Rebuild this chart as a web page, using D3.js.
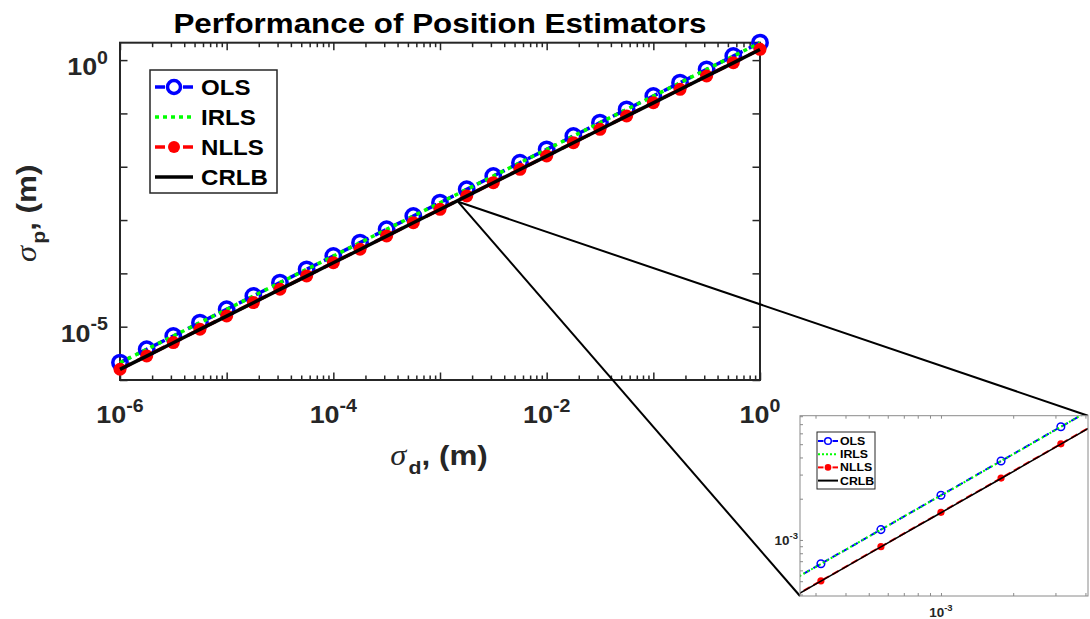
<!DOCTYPE html>
<html>
<head>
<meta charset="utf-8">
<script src="https://cdn.jsdelivr.net/npm/d3@7"></script>
<style>
  html, body { margin: 0; padding: 0; background: #fff; }
  svg { display: block; font-family: "Liberation Sans", Arial, sans-serif; }
</style>
</head>
<body>
<svg id="chart" width="1090" height="619"></svg>
<script>
// Ranging noise standard deviation (m), quarter-decade steps
const sigmaD = [1e-6, 1.78e-6, 3.16e-6, 5.62e-6, 1e-5, 1.78e-5, 3.16e-5, 5.62e-5,
  1e-4, 1.78e-4, 3.16e-4, 5.62e-4, 1e-3, 1.78e-3, 3.16e-3, 5.62e-3,
  1e-2, 1.78e-2, 3.16e-2, 5.62e-2, 1e-1, 1.78e-1, 3.16e-1, 5.62e-1, 1];

// Position error standard deviation (m) for each estimator
const olsErr = [2.12e-6, 3.77e-6, 6.70e-6, 1.19e-5, 2.12e-5, 3.77e-5, 6.70e-5, 1.19e-4,
  2.12e-4, 3.77e-4, 6.70e-4, 1.19e-3, 2.12e-3, 3.77e-3, 6.70e-3, 1.19e-2,
  2.12e-2, 3.77e-2, 6.70e-2, 1.19e-1, 2.12e-1, 3.77e-1, 6.70e-1, 1.19, 2.12];
const irlsErr = [2.11e-6, 3.76e-6, 6.69e-6, 1.19e-5, 2.11e-5, 3.76e-5, 6.69e-5, 1.19e-4,
  2.11e-4, 3.76e-4, 6.69e-4, 1.19e-3, 2.11e-3, 3.76e-3, 6.69e-3, 1.19e-2,
  2.11e-2, 3.76e-2, 6.69e-2, 1.19e-1, 2.11e-1, 3.76e-1, 6.69e-1, 1.19, 2.11];
const nllsErr = [1.59e-6, 2.83e-6, 5.03e-6, 8.94e-6, 1.59e-5, 2.83e-5, 5.03e-5, 8.94e-5,
  1.59e-4, 2.83e-4, 5.03e-4, 8.94e-4, 1.59e-3, 2.83e-3, 5.03e-3, 8.94e-3,
  1.59e-2, 2.83e-2, 5.03e-2, 8.94e-2, 1.59e-1, 2.83e-1, 5.03e-1, 8.94e-1, 1.59];
const crlbErr = [1.58e-6, 2.81e-6, 5.00e-6, 8.89e-6, 1.58e-5, 2.81e-5, 5.00e-5, 8.89e-5,
  1.58e-4, 2.81e-4, 5.00e-4, 8.89e-4, 1.58e-3, 2.81e-3, 5.00e-3, 8.89e-3,
  1.58e-2, 2.81e-2, 5.00e-2, 8.89e-2, 1.58e-1, 2.81e-1, 5.00e-1, 8.89e-1, 1.58];

const seriesNames = ["OLS", "IRLS", "NLLS", "CRLB"];
const titleText = "Performance of Position Estimators";

// Labelled decades (exponents of ten)
const mainXLabelExps = [-6, -4, -2, 0];
const mainYLabelExps = [-5, 0];
const insetXLabelExps = [-3];
const insetYLabelExps = [-3];

// Axis ranges
const mainXDomain = [1e-6, 1];
const mainYDomain = [1e-6, 2.12];
const insetXDomain = [2.585e-4, 4.1e-3];
const insetYDomain = [3.9e-4, 8.07e-3];
// Point of the main plot that the magnified view is tied to
const zoomFocus = [1.48e-3, 2.2e-3];

const svg = d3.select("#chart");
const axisColor = "#262626";
const textStretch = 1.12; // wide glyph rendering
svg.append("rect").attr("width", 1090).attr("height", 619).attr("fill", "#fff");

const data = sigmaD.map((s, i) => ({ s, ols: olsErr[i], irls: irlsErr[i], nlls: nllsErr[i], crlb: crlbErr[i] }));

// ---------- main axes ----------
const M = { left: 120, right: 760, top: 42.7, bottom: 380 };
const x = d3.scaleLog().domain(mainXDomain).range([M.left, M.right]);
const y = d3.scaleLog().domain(mainYDomain).range([M.bottom, M.top]);

const isDecade = v => Math.abs(Math.log10(v) - Math.round(Math.log10(v))) < 1e-9;

function tickLayer(g, axisGen, width) {
  g.call(axisGen);
  g.select(".domain").remove();
  g.selectAll(".tick text").remove();
  g.selectAll(".tick line").attr("stroke", axisColor).attr("stroke-width", width);
}

function powLabel(g, px, py, exp, size, expSize, anchor) {
  const t = g.append("text")
    .attr("transform", `translate(${px},${py}) scale(${textStretch},1)`)
    .attr("text-anchor", anchor)
    .attr("font-weight", "bold")
    .attr("font-size", size)
    .attr("fill", axisColor);
  t.append("tspan").text("10");
  t.append("tspan").attr("font-size", expSize).attr("dy", -size * 0.47).text(String(exp));
}

const main = svg.append("g");
main.append("rect")
  .attr("x", M.left).attr("y", M.top)
  .attr("width", M.right - M.left).attr("height", M.bottom - M.top)
  .attr("fill", "#fff").attr("stroke", axisColor).attr("stroke-width", 2);

const xAll = x.ticks().filter(v => v >= mainXDomain[0] && v <= mainXDomain[1]);
const xMajor = xAll.filter(isDecade);
const xMinor = xAll.filter(v => !isDecade(v));
const yMajor = y.ticks().filter(isDecade);

tickLayer(main.append("g").attr("transform", `translate(0,${M.bottom})`),
  d3.axisBottom(x).tickValues(xMinor).tickSizeInner(-4.5).tickSizeOuter(0).tickFormat(""), 1.5);
tickLayer(main.append("g").attr("transform", `translate(0,${M.bottom})`),
  d3.axisBottom(x).tickValues(xMajor).tickSizeInner(-7.5).tickSizeOuter(0).tickFormat(""), 1.5);
tickLayer(main.append("g").attr("transform", `translate(0,${M.top})`),
  d3.axisTop(x).tickValues(xMinor).tickSizeInner(-4.5).tickSizeOuter(0).tickFormat(""), 1.5);
tickLayer(main.append("g").attr("transform", `translate(0,${M.top})`),
  d3.axisTop(x).tickValues(xMajor).tickSizeInner(-7.5).tickSizeOuter(0).tickFormat(""), 1.5);
tickLayer(main.append("g").attr("transform", `translate(${M.left},0)`),
  d3.axisLeft(y).tickValues(yMajor).tickSizeInner(-7.5).tickSizeOuter(0).tickFormat(""), 1.5);
tickLayer(main.append("g").attr("transform", `translate(${M.right},0)`),
  d3.axisRight(y).tickValues(yMajor).tickSizeInner(-7.5).tickSizeOuter(0).tickFormat(""), 1.5);

mainXLabelExps.forEach(e => powLabel(main, x(Math.pow(10, e)), 423, e, 24, 17.5, "middle"));
mainYLabelExps.forEach(e => powLabel(main, 108, y(Math.pow(10, e)) + 15, e, 24, 17.5, "end"));

// title
svg.append("text")
  .attr("transform", `translate(${(M.left + M.right) / 2},33) scale(${textStretch},1)`)
  .attr("text-anchor", "middle")
  .attr("font-weight", "bold").attr("font-size", 28)
  .attr("fill", "#000")
  .text(titleText);

// axis labels: sigma with subscript
function sigmaLabel(g, sub) {
  const t = g.append("text").attr("text-anchor", "middle").attr("fill", axisColor)
    .attr("transform", `scale(${textStretch},1)`)
    .attr("font-weight", "bold").attr("font-size", 28);
  t.append("tspan").attr("font-family", "'Liberation Serif', serif").attr("font-style", "italic")
    .attr("font-weight", "normal").attr("font-size", 29).text("σ");
  t.append("tspan").attr("font-size", 19).attr("dy", 9).attr("dx", 2).text(sub);
  t.append("tspan").attr("dy", -9).text(", (m)");
}
sigmaLabel(svg.append("g").attr("transform", `translate(${(M.left + M.right) / 2 - 1},465)`), "d");
sigmaLabel(svg.append("g").attr("transform", `translate(36,${(M.top + M.bottom) / 2 + 2}) rotate(-90)`), "p");

// series drawing
function drawSeries(g, xs, ys, st) {
  const line = key => d3.line().x(d => xs(d.s)).y(d => ys(d[key]));
  g.append("path").datum(data).attr("d", line("ols")).attr("fill", "none")
    .attr("stroke", "#0000ff").attr("stroke-width", st.lw).attr("stroke-dasharray", st.dash);
  g.selectAll(null).data(data).join("circle")
    .attr("cx", d => xs(d.s)).attr("cy", d => ys(d.ols)).attr("r", st.ro)
    .attr("fill", "none").attr("stroke", "#0000ff").attr("stroke-width", st.mw);
  g.append("path").datum(data).attr("d", line("irls")).attr("fill", "none")
    .attr("stroke", "#00ff00").attr("stroke-width", st.lw).attr("stroke-dasharray", st.dot);
  g.append("path").datum(data).attr("d", line("nlls")).attr("fill", "none")
    .attr("stroke", "#ff0000").attr("stroke-width", st.lw).attr("stroke-dasharray", st.dash);
  g.selectAll(null).data(data).join("circle")
    .attr("cx", d => xs(d.s)).attr("cy", d => ys(d.nlls)).attr("r", st.rn)
    .attr("fill", "#ff0000");
  g.append("path").datum(data).attr("d", line("crlb")).attr("fill", "none")
    .attr("stroke", "#000").attr("stroke-width", st.lc);
}

drawSeries(main.append("g"), x, y, { lw: 3.5, lc: 3.5, mw: 3.5, ro: 7.2, rn: 6.5, dash: "12,7", dot: "4,4.5" });

// legend
function drawLegend(g, L) {
  g.append("rect").attr("x", L.x).attr("y", L.y).attr("width", L.w).attr("height", L.h)
    .attr("fill", "#fff").attr("stroke", axisColor).attr("stroke-width", L.bw);
  const rows = g.selectAll(null).data(seriesNames).join("g")
    .attr("transform", (d, i) => `translate(0,${L.y0 + i * L.dy})`);
  const a = L.lx0, b = L.lx1, c = (a + b) / 2;
  rows.each(function (name) {
    const r = d3.select(this);
    if (name === "OLS" || name === "NLLS") {
      const col = name === "OLS" ? "#0000ff" : "#ff0000";
      r.append("line").attr("x1", a).attr("x2", c - L.gap).attr("stroke", col).attr("stroke-width", L.lw);
      r.append("line").attr("x1", c + L.gap).attr("x2", b).attr("stroke", col).attr("stroke-width", L.lw);
      if (name === "OLS") {
        r.append("circle").attr("cx", c).attr("r", L.ro).attr("fill", "none")
          .attr("stroke", col).attr("stroke-width", L.mw);
      } else {
        r.append("circle").attr("cx", c).attr("r", L.rn).attr("fill", col);
      }
    } else if (name === "IRLS") {
      r.append("line").attr("x1", a).attr("x2", b).attr("stroke", "#00ff00")
        .attr("stroke-width", L.lw).attr("stroke-dasharray", L.dot);
    } else {
      r.append("line").attr("x1", a).attr("x2", b).attr("stroke", "#000").attr("stroke-width", L.lw);
    }
    r.append("text").attr("transform", `translate(${L.tx},${L.fs * 0.36}) scale(${textStretch},1)`)
      .attr("font-weight", "bold")
      .attr("font-size", L.fs).attr("fill", "#000").text(name);
  });
}

drawLegend(main.append("g"), { x: 150, y: 70, w: 127, h: 123, bw: 1.5, y0: 87, dy: 30,
  lx0: 155, lx1: 193, gap: 9, lw: 3.5, ro: 6.5, rn: 6, mw: 3.5, dot: "4,4", tx: 201, fs: 21.5 });

// ---------- magnified view ----------
const I = { left: 800, right: 1088, top: 415.7, bottom: 596 };
const xi = d3.scaleLog().domain(insetXDomain).range([I.left, I.right]);
const yi = d3.scaleLog().domain(insetYDomain).range([I.bottom, I.top]);

// connector lines from the focus point to the corners of the magnified view
const fx = x(zoomFocus[0]), fy = y(zoomFocus[1]);
svg.append("line").attr("x1", fx).attr("y1", fy).attr("x2", I.left).attr("y2", I.bottom)
  .attr("stroke", "#000").attr("stroke-width", 2);
svg.append("line").attr("x1", fx).attr("y1", fy).attr("x2", I.right).attr("y2", I.top)
  .attr("stroke", "#000").attr("stroke-width", 2);

const inset = svg.append("g");
const insetGrey = "#8a8a8a";
inset.append("rect").attr("x", I.left).attr("y", I.top)
  .attr("width", I.right - I.left).attr("height", I.bottom - I.top)
  .attr("fill", "#fff");

svg.append("defs").append("clipPath").attr("id", "insetClip")
  .append("rect").attr("x", I.left).attr("y", I.top)
  .attr("width", I.right - I.left).attr("height", I.bottom - I.top);

const xiAll = xi.ticks().filter(v => v >= insetXDomain[0] && v <= insetXDomain[1]);
const yiAll = yi.ticks().filter(v => v >= insetYDomain[0] && v <= insetYDomain[1]);

function insetTicks(g, gen) {
  g.call(gen);
  g.select(".domain").remove();
  g.selectAll(".tick text").remove();
  g.selectAll(".tick line").attr("stroke", insetGrey).attr("stroke-width", 1);
}
insetTicks(inset.append("g").attr("transform", `translate(0,${I.bottom})`),
  d3.axisBottom(xi).tickValues(xiAll).tickSizeInner(-3).tickSizeOuter(0).tickFormat(""));
insetTicks(inset.append("g").attr("transform", `translate(0,${I.top})`),
  d3.axisTop(xi).tickValues(xiAll).tickSizeInner(-3).tickSizeOuter(0).tickFormat(""));
insetTicks(inset.append("g").attr("transform", `translate(${I.left},0)`),
  d3.axisLeft(yi).tickValues(yiAll).tickSizeInner(-3).tickSizeOuter(0).tickFormat(""));

drawSeries(inset.append("g").attr("clip-path", "url(#insetClip)"), xi, yi,
  { lw: 2, lc: 1.5, mw: 1.5, ro: 3.8, rn: 3.6, dash: "7,4", dot: "2,2.5" });

inset.append("rect").attr("x", I.left).attr("y", I.top)
  .attr("width", I.right - I.left).attr("height", I.bottom - I.top)
  .attr("fill", "none").attr("stroke", insetGrey).attr("stroke-width", 1);

insetXLabelExps.forEach(e => powLabel(inset, xi(Math.pow(10, e)), 617, e, 12, 8.5, "middle"));
insetYLabelExps.forEach(e => powLabel(inset, 798, yi(Math.pow(10, e)) + 5, e, 12, 8.5, "end"));

drawLegend(inset.append("g"), { x: 817, y: 432, w: 58, h: 57, bw: 1, y0: 441, dy: 13.2,
  lx0: 818, lx1: 838, gap: 4.5, lw: 2, ro: 3.3, rn: 3.3, mw: 1.5, dot: "2,2", tx: 840, fs: 11 });
</script>
</body>
</html>
